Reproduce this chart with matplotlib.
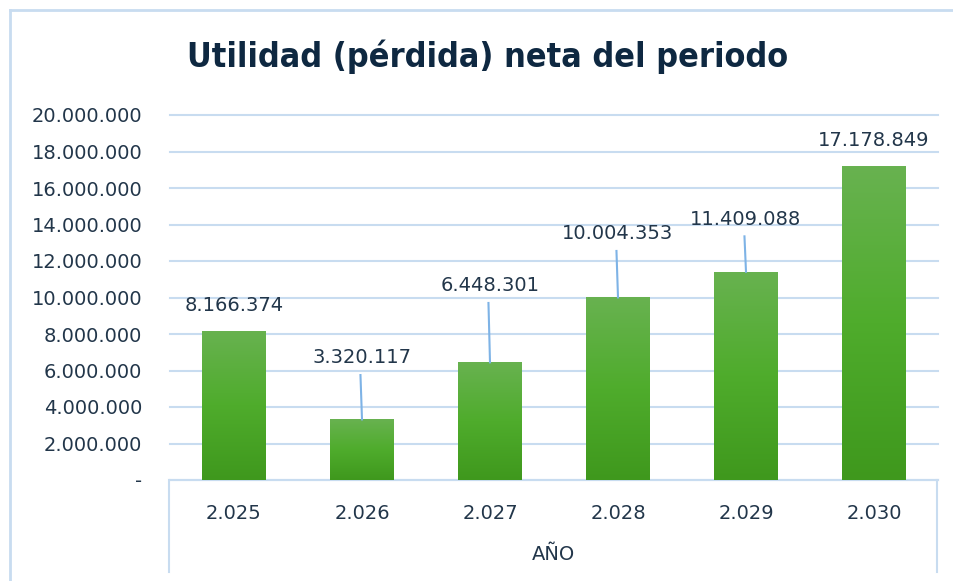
import numpy as np
import matplotlib.pyplot as plt
from matplotlib.colors import LinearSegmentedColormap
from matplotlib.lines import Line2D

years = ['2.025', '2.026', '2.027', '2.028', '2.029', '2.030']
values = [8166374, 3320117, 6448301, 10004353, 11409088, 17178849]
labels = ['8.166.374', '3.320.117', '6.448.301', '10.004.353', '11.409.088', '17.178.849']
yticks = [0, 2e6, 4e6, 6e6, 8e6, 10e6, 12e6, 14e6, 16e6, 18e6, 20e6]
ytick_labels = ['-', '2.000.000', '4.000.000', '6.000.000', '8.000.000', '10.000.000',
                '12.000.000', '14.000.000', '16.000.000', '18.000.000', '20.000.000']
# label centres (data units) where the labels were dragged to
label_y = [9.55e6, 6.7e6, 10.65e6, 13.5e6, 14.3e6, 18.6e6]

text_col = '#22364A'
grid_col = '#C8DCF0'
leader_col = '#7EB3E6'

fig = plt.figure(figsize=(9.54, 5.81), dpi=100)
ax = fig.add_axes([170 / 954, 1 - 480 / 581, 768 / 954, (480 - 115) / 581])

x = np.arange(len(values))
bars = ax.bar(x, values, width=0.5, color='none', edgecolor='none', zorder=3)

cmap = LinearSegmentedColormap.from_list('g', ['#3F981D', '#4FAC2C', '#68B250'])
grad = np.linspace(0, 1, 256).reshape(-1, 1)
for b in bars:
    bx, by = b.get_x(), b.get_y()
    w, h = b.get_width(), b.get_height()
    im = ax.imshow(grad, cmap=cmap, aspect='auto', origin='lower',
                   extent=[bx, bx + w, by, by + h], zorder=3)
    im.set_clip_path(b)

ax.set_xlim(-0.5, len(values) - 0.5)
ax.set_ylim(0, 20e6)
ax.set_yticks(yticks)
ax.set_yticklabels(ytick_labels)
ax.set_xticks(x)
ax.set_xticklabels(years)
ax.tick_params(axis='both', length=0, labelsize=14, colors=text_col)
ax.tick_params(axis='y', pad=20)
ax.tick_params(axis='x', pad=17)
ax.grid(axis='y', color=grid_col, linewidth=1.5, zorder=0)
for l in ax.get_ygridlines():
    l.set_clip_on(False)
for s in ax.spines.values():
    s.set_visible(False)
ax.set_axisbelow(True)

for i, (v, lab, ly) in enumerate(zip(values, labels, label_y)):
    ax.text(x[i], ly, lab, ha='center', va='center', fontsize=14, color=text_col, zorder=5)
    if ly - v > 1.6e6:
        ax.plot([x[i] - 0.012, x[i]], [ly - 0.95e6, v], color=leader_col, lw=1.5, zorder=4)

# category axis box and chart border
ax.plot([-0.5, 5.5], [0, 0], color=grid_col, lw=1.5, clip_on=False, zorder=2)
fig.add_artist(Line2D([169 / 954, 169 / 954], [1 - 480 / 581, 1 - 572 / 581], color=grid_col, lw=1.5))
fig.add_artist(Line2D([937 / 954, 937 / 954], [1 - 480 / 581, 1 - 572 / 581], color=grid_col, lw=1.5))
fig.add_artist(Line2D([10 / 954, 10 / 954], [0, 1 - 10 / 581], color=grid_col, lw=2))
fig.add_artist(Line2D([10 / 954, 1], [1 - 10 / 581, 1 - 10 / 581], color=grid_col, lw=2))

fig.text(553 / 954, 1 - 555 / 581, 'AÑO', ha='center', va='center', fontsize=14, color=text_col)
fig.text(488 / 954, 1 - 57 / 581, 'Utilidad (pérdida) neta del periodo', ha='center', va='center',
         fontsize=24.5, fontweight='bold', fontstretch='condensed', family='DejaVu Sans', color='#0E2841')

fig.savefig('out.png', dpi=100, facecolor='white')
